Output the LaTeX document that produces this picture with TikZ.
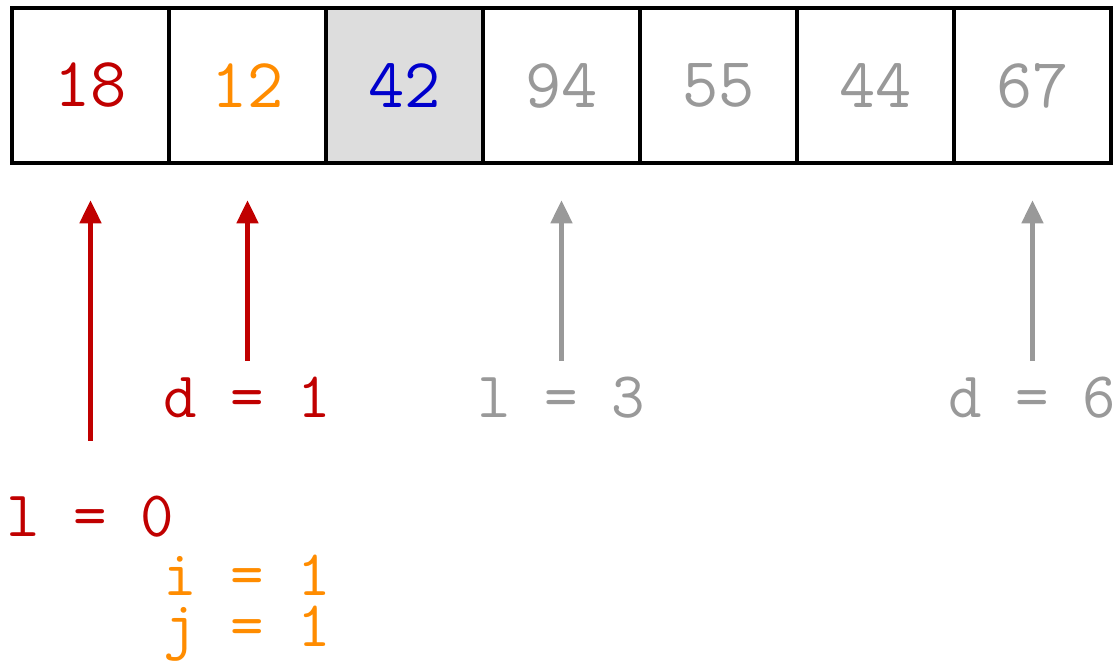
\documentclass[tikz,border=0pt]{standalone}
\usepackage{xcolor}
\definecolor{ptrred}{HTML}{C00000}
\definecolor{ptrorange}{HTML}{FF8C00}
\definecolor{pivotblue}{HTML}{0000CC}
\definecolor{muted}{HTML}{999999}
\definecolor{pivotfill}{HTML}{DDDDDD}
\usepackage{tikz}
\usetikzlibrary{arrows.meta,positioning}

\begin{document}
\begin{tikzpicture}[x=0.01cm, y=-0.01cm,
  cell/.style={draw=black, line width=1.25pt, minimum width=1.57cm,
    minimum height=1.55cm, inner sep=0pt, font=\fontsize{20}{24}\selectfont\ttfamily},
  lbl/.style={inner sep=0pt, anchor=base, font=\fontsize{18.5}{22}\selectfont\ttfamily},
  ptr/.style={-{Triangle[length=2.3mm, width=2.1mm]}, line width=1.35pt, shorten >=0.35cm}]

  \useasboundingbox (0,0) rectangle (1117,662);

  % Tableau : une case par valeur
  \foreach \v/\col/\bg [count=\i from 0] in {18/ptrred/white, 12/ptrorange/white,
      42/pivotblue/pivotfill, 94/muted/white, 55/muted/white, 44/muted/white, 67/muted/white}
    \node[cell, fill=\bg, text=\col] (c\i) at (90.5+157*\i, 85.5) {\v};

  % Indices sous le tableau
  \node[lbl, text=ptrred] (l0) at (90.5, 537) {l = 0};
  \node[lbl, text=ptrorange] (i1) at (247.5, 596) {i = 1};
  \node[lbl, text=ptrorange] (j1) at (247.5, 647) {j = 1};
  \node[lbl, text=ptrred] (d1) at (247.5, 418) {d = 1};
  \node[lbl, text=muted] (l3) at (561.5, 418) {l = 3};
  \node[lbl, text=muted] (d6) at (1032.5, 418) {d = 6};

  % Pointeurs vers les cases
  \draw[ptr, ptrred, shorten <=0.55cm] (l0.north) -- (c0.south);
  \foreach \l/\c/\col in {d1/c1/ptrred, l3/c3/muted, d6/c6/muted}
    \draw[ptr, \col, shorten <=0.16cm] (\l.north) -- (\c.south);
\end{tikzpicture}
\end{document}
